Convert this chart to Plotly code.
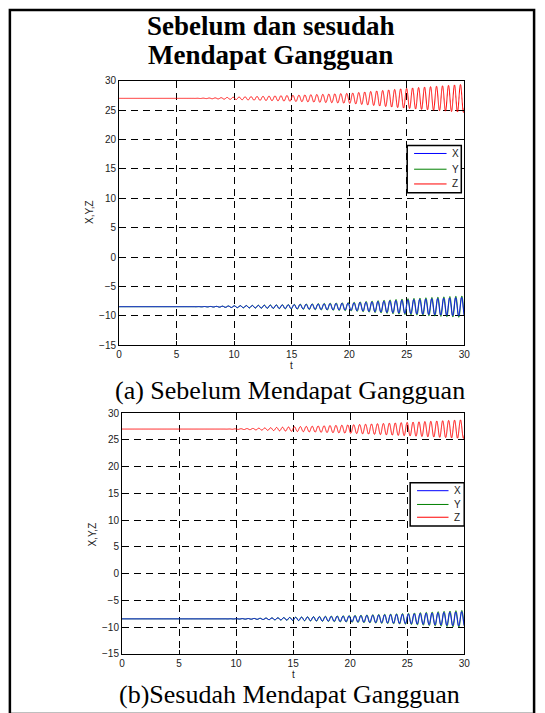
import numpy as np
import plotly.graph_objects as go

# ---- readings from the picture ----
x_ticks = [0, 5, 10, 15, 20, 25, 30]
y_ticks = [-15, -10, -5, 0, 5, 10, 15, 20, 25, 30]
series_names = ["X", "Y", "Z"]
series_colors = ["#0000ff", "#008000", "#ff0000"]
draw_order = [1, 0, 2]  # green under blue, red last

# equilibrium levels
x_level = -8.45
y_level = -8.45
z_level = 27.0
period = 0.52  # oscillation period

# (a) amplitude envelope read at these times
env_t_a = [0, 6.5, 8.5, 10, 15, 20, 25, 30]
x_amp_a = [0, 0, 0.05, 0.13, 0.32, 0.6, 1.15, 1.6]
y_amp_a = [0, 0, 0.06, 0.16, 0.38, 0.7, 1.35, 1.85]
z_amp_a = [0, 0, 0.08, 0.2, 0.5, 0.85, 1.7, 2.4]

# (b) amplitude envelope read at these times
env_t_b = [0, 9.0, 11.5, 15, 20, 25, 30]
x_amp_b = [0, 0, 0.06, 0.25, 0.52, 0.88, 1.35]
y_amp_b = [0, 0, 0.07, 0.3, 0.62, 1.02, 1.6]
z_amp_b = [0, 0, 0.12, 0.42, 0.78, 1.25, 1.75]

t = np.linspace(0, 30, 4001)
w = 2 * np.pi / period


def make_series(env_t, xa, ya, za):
    ax = np.interp(t, env_t, xa)
    ay = np.interp(t, env_t, ya)
    az = np.interp(t, env_t, za)
    xs = x_level + ax * np.sin(w * t)
    ys = y_level + ay * np.sin(w * t - 0.25)
    zs = z_level + az * np.sin(w * t + 1.2)
    return [xs, ys, zs]


data_a = make_series(env_t_a, x_amp_a, y_amp_a, z_amp_a)
data_b = make_series(env_t_b, x_amp_b, y_amp_b, z_amp_b)

W, H = 545, 713
fig = go.Figure()

for k in draw_order:
    fig.add_trace(go.Scatter(x=t, y=data_a[k], mode="lines", name=series_names[k],
                             line=dict(color=series_colors[k], width=1, simplify=False),
                             xaxis="x", yaxis="y", showlegend=False))
for k in draw_order:
    fig.add_trace(go.Scatter(x=t, y=data_b[k], mode="lines", name=series_names[k],
                             line=dict(color=series_colors[k], width=1, simplify=False),
                             xaxis="x2", yaxis="y2", showlegend=False))


def px(x):
    return x / W


def py(y):
    return 1 - y / H


tickfont = dict(family="Liberation Sans", size=10, color="#222")
common_x = dict(range=[0, 30], tickvals=x_ticks, showgrid=True, gridcolor="black",
                griddash="7px,5px", gridwidth=1, zeroline=False, showline=True,
                linecolor="black", linewidth=1, mirror="ticks", ticks="inside",
                ticklen=4, tickcolor="black", tickfont=tickfont)
common_y = dict(range=[-15, 30], tickvals=y_ticks, showgrid=True, gridcolor="black",
                griddash="7px,5px", gridwidth=1, zeroline=False, showline=True,
                linecolor="black", linewidth=1, mirror="ticks", ticks="inside",
                ticklen=4, tickcolor="black", tickfont=tickfont)

fig.update_layout(
    width=W, height=H, margin=dict(l=0, r=0, t=0, b=0),
    paper_bgcolor="white", plot_bgcolor="white",
    xaxis=dict(domain=[px(118), px(469)], anchor="y", **common_x),
    yaxis=dict(domain=[py(345), py(76)], anchor="x", **common_y),
    xaxis2=dict(domain=[px(121), px(469)], anchor="y2", **common_x),
    yaxis2=dict(domain=[py(659), py(414)], anchor="x2", **common_y),
    showlegend=False,
)

serif = "Liberation Serif"
annotations = [
    dict(text="<b>Sebelum dan sesudah</b>", x=px(272), y=py(20), font=dict(family=serif, size=27, color="black")),
    dict(text="<b>Mendapat Gangguan</b>", x=px(272), y=py(50), font=dict(family=serif, size=27, color="black")),
    dict(text="(a) Sebelum Mendapat Gangguan", x=px(292), y=py(391), font=dict(family=serif, size=26, color="black")),
    dict(text="(b)Sesudah Mendapat Gangguan", x=px(291), y=py(700), font=dict(family=serif, size=26, color="black")),
    dict(text="t", x=px(293), y=py(366), font=dict(family="Liberation Sans", size=10, color="#222")),
    dict(text="t", x=px(295), y=py(680), font=dict(family="Liberation Sans", size=10, color="#222")),
    dict(text="X,Y,Z", x=px(88), y=py(210), textangle=-90, font=dict(family="Liberation Sans", size=10, color="#222")),
    dict(text="X,Y,Z", x=px(91), y=py(537), textangle=-90, font=dict(family="Liberation Sans", size=10, color="#222")),
]
for a in annotations:
    a.update(xref="paper", yref="paper", showarrow=False, xanchor="center", yanchor="middle")

shapes = []
# legend boxes: (box left, right, top, bottom, line x0, line x1, text x, item ys)
legend_boxes = [
    (411, 466, 142, 190, 418, 451, 455, [150, 166, 181]),
    (414, 469, 485, 529, 421, 453, 457, [493, 507, 520]),
]
for (bl, br, bt, bb, lx0, lx1, tx, ys) in legend_boxes:
    shapes.append(dict(type="rect", xref="paper", yref="paper", x0=px(bl), x1=px(br), y0=py(bb), y1=py(bt),
                       line=dict(color="black", width=1.5), fillcolor="white", layer="above"))
    for k in range(3):
        shapes.append(dict(type="line", xref="paper", yref="paper", x0=px(lx0), x1=px(lx1), y0=py(ys[k]), y1=py(ys[k]),
                           line=dict(color=series_colors[k], width=1), layer="above"))
        annotations.append(dict(text=series_names[k], x=px(tx), y=py(ys[k]), xref="paper", yref="paper",
                                showarrow=False, xanchor="left", yanchor="middle",
                                font=dict(family="Liberation Sans", size=10, color="#222")))

shapes.append(dict(type="rect", xref="paper", yref="paper", x0=px(7), x1=px(540), y0=py(720), y1=py(4),
                   line=dict(color="black", width=2.5), fillcolor="rgba(0,0,0,0)", layer="above"))

fig.update_layout(annotations=annotations, shapes=shapes)

fig.write_html("out.html")
